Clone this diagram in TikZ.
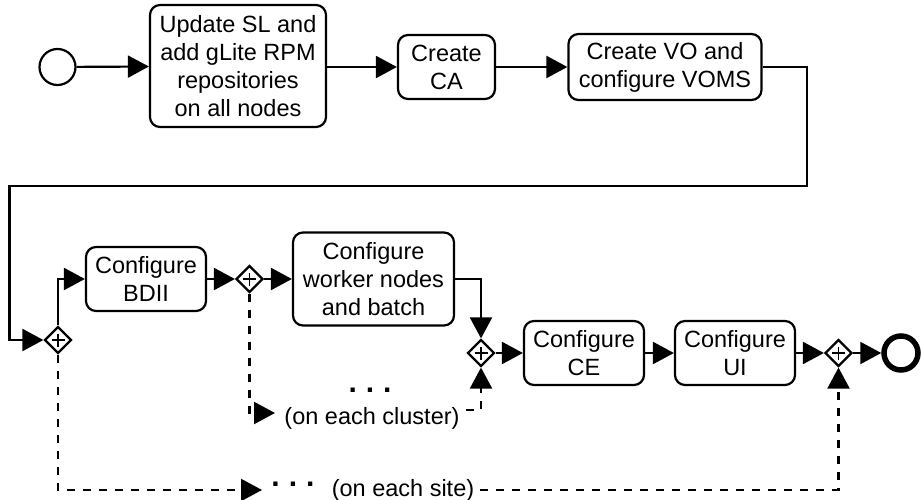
\documentclass[tikz,border=0pt]{standalone}
\usepackage{fontspec}
\setmainfont{Liberation Sans}
\usetikzlibrary{arrows.meta,shapes.geometric}

\tikzset{
  task/.style={draw, line width=2.2pt, rounded corners=10pt, align=center,
    inner sep=0pt, font=\fontsize{23.5}{28}\selectfont},
  gate/.style={draw, diamond, line width=2.2pt, inner sep=0pt,
    minimum width=27pt, minimum height=27pt, fill=white,
    path picture={
      \draw[line width=1.4pt] (path picture bounding box.center) +(-6.5pt,0) -- +(6.5pt,0);
      \draw[line width=1.4pt] (path picture bounding box.center) +(0,-6.5pt) -- +(0,6.5pt);
    }},
  startev/.style={draw, circle, line width=2.2pt, minimum size=36pt, inner sep=0pt},
  endev/.style={draw, circle, line width=5.5pt, minimum size=34pt, inner sep=0pt},
  flow/.style={line width=2.2pt, -{Triangle[length=21pt,width=22pt]}},
  flowdash/.style={flow, dash pattern=on 8pt off 8pt},
  lbl/.style={font=\fontsize{23.5}{28}\selectfont, inner sep=0pt},
  dots/.style={font=\fontsize{30}{30}\selectfont\bfseries, inner sep=0pt},
}

\begin{document}
\begin{tikzpicture}[x=1pt, y=-1pt]
  \useasboundingbox (0,0) rectangle (922,500);

  % top row
  \node[startev] (start) at (57.5,67) {};
  \node[task, minimum width=176pt, minimum height=122pt] (sl) at (238,66)
    {Update SL and\\add gLite RPM\\repositories\\on all nodes};
  \node[task, minimum width=97pt, minimum height=64pt] (ca) at (446.5,67)
    {Create\\CA};
  \node[task, minimum width=193pt, minimum height=66pt] (vo) at (665,67)
    {Create VO and\\configure VOMS};

  % middle and lower rows
  \node[gate] (g1) at (58,340) {};
  \node[task, minimum width=120pt, minimum height=64pt] (bdii) at (146,279)
    {Configure\\BDII};
  \node[gate] (g2) at (249.5,279) {};
  \node[task, minimum width=161pt, minimum height=93pt] (wn) at (373.5,279)
    {Configure\\worker nodes\\and batch};
  \node[gate] (g3) at (481,353) {};
  \node[task, minimum width=120pt, minimum height=64pt] (ce) at (584,353)
    {Configure\\CE};
  \node[task, minimum width=120pt, minimum height=64pt] (ui) at (735,353)
    {Configure\\UI};
  \node[gate] (g4) at (838.5,353) {};
  \node[endev] (end) at (901,353) {};

  % loop labels
  \node[dots] (cdots) at (370,390) {.\hspace{9pt}.\hspace{9pt}.};
  \node[lbl] (clab) at (372,418) {(on each cluster)};
  \node[dots] (sdots) at (293,484) {.\hspace{9pt}.\hspace{9pt}.};
  \node[lbl] (slab) at (403,490) {(on each site)};

  \coordinate (carr) at (275,413);
  \coordinate (cres) at (466,410);
  \coordinate (sarr) at (262,490);
  \coordinate (turn) at (807,186);

  % sequence flows
  \draw[flow] (start) -- (sl);
  \draw[flow] (sl.east |- ca) -- (ca);
  \draw[flow] (ca) -- (vo);
  \draw[flow] (vo.east) -| (turn) -- (9.5,186) |- (g1.west);
  \draw[flow] (g1.north) |- (bdii.west);
  \draw[flow] (bdii) -- (g2);
  \draw[flow] (g2) -- (wn);
  \draw[flow] (wn.east) -| (g3.north);
  \draw[flow] (g3) -- (ce);
  \draw[flow] (ce) -- (ui);
  \draw[flow] (ui) -- (g4);
  \draw[flow] (g4) -- (end);

  % repetition loops
  \draw[flowdash] (g2.south) |- (carr);
  \draw[flowdash] (cres) -| (g3.south);
  \draw[flowdash] (g1.south) |- (sarr);
  \draw[flowdash] (slab.east) ++(6pt,0) -| (g4.south);
\end{tikzpicture}
\end{document}
